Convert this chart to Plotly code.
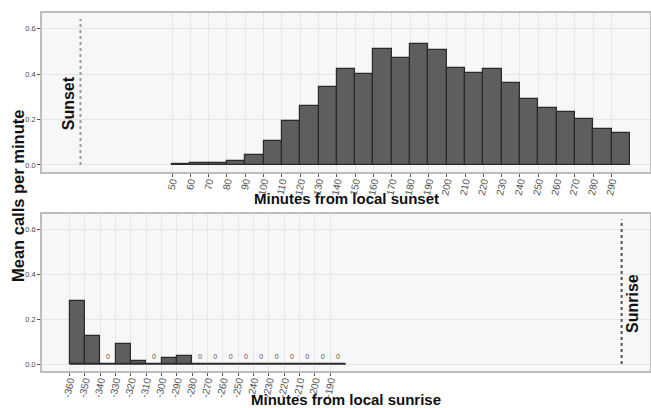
import plotly.graph_objects as go

# ---- data ----
sunset_bins = [50, 60, 70, 80, 90, 100, 110, 120, 130, 140, 150, 160, 170, 180, 190,
               200, 210, 220, 230, 240, 250, 260, 270, 280, 290]
sunset_vals = [0.004, 0.007, 0.009, 0.019, 0.043, 0.106, 0.193, 0.262, 0.344, 0.422,
               0.403, 0.512, 0.471, 0.535, 0.506, 0.426, 0.407, 0.421, 0.360, 0.290,
               0.250, 0.234, 0.204, 0.157, 0.143]

sunrise_bins = [-360, -350, -340, -330, -320, -310, -300, -290, -280, -270, -260,
                -250, -240, -230, -220, -210, -200, -190]
sunrise_vals = [0.282, 0.127, 0.0, 0.088, 0.013, 0.0, 0.025, 0.037, 0.0, 0.0, 0.0,
                0.0, 0.0, 0.0, 0.0, 0.0, 0.0, 0.0]

BIN = 10
y_ticks = [0.0, 0.2, 0.4, 0.6]
y_ticklabels = ["0.0", "0.2", "0.4", "0.6"]
event_x = 0          # sunset / sunrise at minute 0
event_line_top = 0.645
label_y = 0.27

BAR_FILL = "#5e5e5e"
BAR_LINE = "#2a2a2a"
PANEL_BG = "#f7f7f7"
GRID = "#e6e6e6"
FAM = "Liberation Sans, Arial, sans-serif"
TICK_FONT = dict(family=FAM, size=10, color="#555555")
YTICK_FONT = dict(family=FAM, size=7.5, color="#4a4a4a")
TITLE_FONT = dict(family=FAM, size=15, color="#111111")
YTITLE_FONT = dict(family=FAM, size=16.5, color="#111111")

fig = go.Figure()

fig.add_trace(go.Bar(
    x=[b + BIN / 2 for b in sunset_bins], y=sunset_vals, width=BIN,
    marker=dict(color=BAR_FILL, line=dict(color=BAR_LINE, width=1.2)),
    xaxis="x", yaxis="y", showlegend=False, hoverinfo="skip"))

fig.add_trace(go.Bar(
    x=[b + BIN / 2 for b in sunrise_bins], y=sunrise_vals, width=BIN,
    marker=dict(color=BAR_FILL, line=dict(color=BAR_LINE, width=1.2)),
    xaxis="x2", yaxis="y2", showlegend=False, hoverinfo="skip"))

fig.add_trace(go.Scatter(
    x=[min(sunrise_bins), max(sunrise_bins) + BIN], y=[0, 0], mode="lines",
    line=dict(color=BAR_LINE, width=1.2), xaxis="x2", yaxis="y2",
    showlegend=False, hoverinfo="skip"))

zero_x = [b + BIN / 2 for b, v in zip(sunrise_bins, sunrise_vals) if v == 0]
fig.add_trace(go.Scatter(
    x=zero_x, y=[0.03] * len(zero_x), mode="text", text=["0"] * len(zero_x),
    textfont=dict(family=FAM, size=7, color="#555555"),
    xaxis="x2", yaxis="y2", showlegend=False, hoverinfo="skip"))

fig.add_trace(go.Scatter(
    x=[event_x, event_x], y=[0, event_line_top], mode="lines",
    line=dict(color="#9a9a9a", width=2, dash="dot"),
    xaxis="x", yaxis="y", showlegend=False, hoverinfo="skip"))
fig.add_trace(go.Scatter(
    x=[event_x, event_x], y=[0, event_line_top], mode="lines",
    line=dict(color="#555555", width=2, dash="dot"),
    xaxis="x2", yaxis="y2", showlegend=False, hoverinfo="skip"))

axis_common = dict(
    showline=True, linecolor="#bdbdbd", linewidth=1.5, mirror=True,
    showgrid=True, gridcolor=GRID, gridwidth=1,
    ticks="outside", ticklen=3, tickcolor="#555555", tickwidth=1,
    zeroline=False, automargin=False,
)

fig.update_layout(
    width=651, height=408,
    margin=dict(l=42, r=1, t=13, b=37),
    paper_bgcolor="white", plot_bgcolor=PANEL_BG,
    bargap=0,
    xaxis=dict(domain=[0, 1], anchor="y", range=[-21, 311],
               tickmode="array", tickvals=sunset_bins,
               ticktext=[str(v) for v in sunset_bins], tickangle=-78,
               ticklabelstandoff=-5,
               tickfont=TICK_FONT, **axis_common),
    yaxis=dict(domain=[0.556, 1], anchor="x", range=[-0.031, 0.67],
               tickmode="array", tickvals=y_ticks, ticktext=y_ticklabels,
               tickfont=YTICK_FONT, **axis_common),
    xaxis2=dict(domain=[0, 1], anchor="y2", range=[-378, 18.5],
                tickmode="array", tickvals=sunrise_bins,
                ticktext=[str(v) for v in sunrise_bins], tickangle=-78,
                ticklabelstandoff=-5,
                tickfont=TICK_FONT, **axis_common),
    yaxis2=dict(domain=[0, 0.4385], anchor="x2", range=[-0.031, 0.67],
                tickmode="array", tickvals=y_ticks, ticktext=y_ticklabels,
                tickfont=YTICK_FONT, **axis_common),
)

H_PLOT = 408 - 13 - 37
W_PLOT = 651 - 42 - 1

fig.add_annotation(x=-6.5, y=label_y, xref="x", yref="y", text="<b>Sunset</b>",
                   textangle=-90, showarrow=False,
                   font=dict(family=FAM, size=16, color="#111111"))
fig.add_annotation(x=7, y=label_y, xref="x2", yref="y2", text="<b>Sunrise</b>",
                   textangle=-90, showarrow=False,
                   font=dict(family=FAM, size=16, color="#111111"))
fig.add_annotation(x=0.5, y=(371 - 199) / H_PLOT, xref="paper", yref="paper",
                   text="<b>Minutes from local sunset</b>", yanchor="middle",
                   showarrow=False, font=TITLE_FONT)
fig.add_annotation(x=0.5, y=(371 - 399) / H_PLOT, xref="paper", yref="paper",
                   text="<b>Minutes from local sunrise</b>", yanchor="middle",
                   showarrow=False, font=TITLE_FONT)
fig.add_annotation(x=(18 - 42) / W_PLOT, y=(371 - 196) / H_PLOT, xref="paper", yref="paper",
                   text="<b>Mean calls per minute</b>", xanchor="center", yanchor="middle",
                   textangle=-90, showarrow=False, font=YTITLE_FONT)

fig.write_html("out.html", config={"displayModeBar": False},
               post_script="document.body.style.margin='0';document.body.style.overflow='hidden';")
